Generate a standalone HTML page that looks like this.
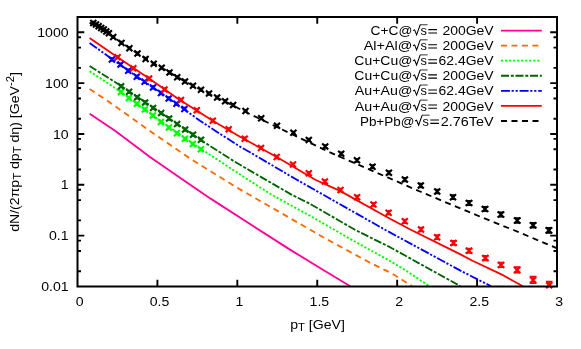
<!DOCTYPE html>
<html><head><meta charset="utf-8"><title>plot</title>
<style>html,body{margin:0;padding:0;background:#fff;}svg{display:block;font-family:"Liberation Sans",sans-serif;will-change:transform;}text{font-family:"Liberation Sans",sans-serif;fill:#000;}</style></head><body>
<svg width="581" height="349" viewBox="0 0 581 349">
<rect x="0" y="0" width="581" height="349" fill="#ffffff"/>
<clipPath id="c"><rect x="77.5" y="17.0" width="479.5" height="270.0"/></clipPath>
<g clip-path="url(#c)" fill="none" stroke-linejoin="round">
<path d="M89.7 113.8L115.4 131.0L150.0 157.0L180.0 177.7L211.0 198.9L250.0 224.0L290.0 249.6L320.0 268.0L350.2 286.2" stroke="#ff0099" stroke-width="1.85"/>
<path d="M89.6 88.9L107.7 100.9L150.0 131.0L191.3 159.4L240.0 189.4L292.6 219.6L327.0 239.4L370.0 262.7L392.0 273.5L412.2 286.2" stroke="#ff6a00" stroke-width="1.85" stroke-dasharray="6 4.46"/>
<path d="M89.6 71.2L120.5 91.7L160.7 121.0L200.8 148.8L250.0 181.0L271.8 194.8L310.0 215.8L351.0 239.4L390.0 261.0L404.4 269.6L429.4 286.2" stroke="#00ff00" stroke-width="1.85" stroke-dasharray="2.2 1.83"/>
<path d="M89.6 66.0L121.2 86.0L161.2 112.9L201.1 140.2L232.6 160.4L250.0 170.6L291.0 194.4L310.0 203.8L355.4 230.0L390.0 247.2L460.4 286.2" stroke="#006400" stroke-width="1.85" stroke-dasharray="8 1.8 3 1.7"/>
<path d="M89.6 42.9L111.9 59.0L136.8 76.4L160.9 92.8L184.4 109.4L200.0 120.8L221.4 134.7L240.0 146.6L250.0 152.3L295.2 178.8L322.6 194.4L385.5 230.0L460.0 270.4L491.0 286.2" stroke="#0000ff" stroke-width="1.85" stroke-dasharray="9 1.6 2.2 1.8 2.2 1.8"/>
<path d="M89.6 37.9L117.6 57.2L149.1 78.6L178.4 99.0L212.8 120.7L240.0 136.7L276.7 157.0L315.8 180.0L340.0 190.9L390.0 218.7L411.3 230.0L460.0 254.1L472.0 260.5L503.0 275.2L522.8 286.2" stroke="#ff0000" stroke-width="1.85"/>
<path d="M89.6 22.6L100.5 28.9L113.2 37.0L137.5 53.6L161.7 67.9L185.0 81.5L209.0 93.8L233.1 105.5L245.5 112.0L330.0 152.4L420.0 191.5L483.1 217.9L513.4 230.0L557.2 248.3" stroke="#000000" stroke-width="1.85" stroke-dasharray="6 4.5"/>
</g>
<g>
<path d="M117.90 89.00L123.90 95.00M117.90 95.00L123.90 89.00" stroke="#00ff00" stroke-width="2.1" fill="none"/><path d="M120.90 90.70L120.90 93.30M118.70 90.70L123.10 90.70M118.70 93.30L123.10 93.30" stroke="#00ff00" stroke-width="1.7" fill="none"/>
<path d="M125.90 95.00L131.90 101.00M125.90 101.00L131.90 95.00" stroke="#00ff00" stroke-width="2.1" fill="none"/><path d="M128.90 96.70L128.90 99.30M126.70 96.70L131.10 96.70M126.70 99.30L131.10 99.30" stroke="#00ff00" stroke-width="1.7" fill="none"/>
<path d="M133.90 100.80L139.90 106.80M133.90 106.80L139.90 100.80" stroke="#00ff00" stroke-width="2.1" fill="none"/><path d="M136.90 102.50L136.90 105.10M134.70 102.50L139.10 102.50M134.70 105.10L139.10 105.10" stroke="#00ff00" stroke-width="1.7" fill="none"/>
<path d="M141.90 106.60L147.90 112.60M141.90 112.60L147.90 106.60" stroke="#00ff00" stroke-width="2.1" fill="none"/><path d="M144.90 108.30L144.90 110.90M142.70 108.30L147.10 108.30M142.70 110.90L147.10 110.90" stroke="#00ff00" stroke-width="1.7" fill="none"/>
<path d="M149.90 112.60L155.90 118.60M149.90 118.60L155.90 112.60" stroke="#00ff00" stroke-width="2.1" fill="none"/><path d="M152.90 114.30L152.90 116.90M150.70 114.30L155.10 114.30M150.70 116.90L155.10 116.90" stroke="#00ff00" stroke-width="1.7" fill="none"/>
<path d="M157.90 119.00L163.90 125.00M157.90 125.00L163.90 119.00" stroke="#00ff00" stroke-width="2.1" fill="none"/><path d="M160.90 120.70L160.90 123.30M158.70 120.70L163.10 120.70M158.70 123.30L163.10 123.30" stroke="#00ff00" stroke-width="1.7" fill="none"/>
<path d="M165.90 124.60L171.90 130.60M165.90 130.60L171.90 124.60" stroke="#00ff00" stroke-width="2.1" fill="none"/><path d="M168.90 126.30L168.90 128.90M166.70 126.30L171.10 126.30M166.70 128.90L171.10 128.90" stroke="#00ff00" stroke-width="1.7" fill="none"/>
<path d="M173.90 130.20L179.90 136.20M173.90 136.20L179.90 130.20" stroke="#00ff00" stroke-width="2.1" fill="none"/><path d="M176.90 131.90L176.90 134.50M174.70 131.90L179.10 131.90M174.70 134.50L179.10 134.50" stroke="#00ff00" stroke-width="1.7" fill="none"/>
<path d="M181.90 135.80L187.90 141.80M181.90 141.80L187.90 135.80" stroke="#00ff00" stroke-width="2.1" fill="none"/><path d="M184.90 137.50L184.90 140.10M182.70 137.50L187.10 137.50M182.70 140.10L187.10 140.10" stroke="#00ff00" stroke-width="1.7" fill="none"/>
<path d="M189.80 141.00L195.80 147.00M189.80 147.00L195.80 141.00" stroke="#00ff00" stroke-width="2.1" fill="none"/><path d="M192.80 142.70L192.80 145.30M190.60 142.70L195.00 142.70M190.60 145.30L195.00 145.30" stroke="#00ff00" stroke-width="1.7" fill="none"/>
<path d="M197.80 146.20L203.80 152.20M197.80 152.20L203.80 146.20" stroke="#00ff00" stroke-width="2.1" fill="none"/><path d="M200.80 147.90L200.80 150.50M198.60 147.90L203.00 147.90M198.60 150.50L203.00 150.50" stroke="#00ff00" stroke-width="1.7" fill="none"/>
<path d="M118.10 83.20L124.10 89.20M118.10 89.20L124.10 83.20" stroke="#006400" stroke-width="2.1" fill="none"/><path d="M121.10 84.90L121.10 87.50M118.90 84.90L123.30 84.90M118.90 87.50L123.30 87.50" stroke="#006400" stroke-width="1.7" fill="none"/>
<path d="M126.10 88.80L132.10 94.80M126.10 94.80L132.10 88.80" stroke="#006400" stroke-width="2.1" fill="none"/><path d="M129.10 90.50L129.10 93.10M126.90 90.50L131.30 90.50M126.90 93.10L131.30 93.10" stroke="#006400" stroke-width="1.7" fill="none"/>
<path d="M134.10 94.30L140.10 100.30M134.10 100.30L140.10 94.30" stroke="#006400" stroke-width="2.1" fill="none"/><path d="M137.10 96.00L137.10 98.60M134.90 96.00L139.30 96.00M134.90 98.60L139.30 98.60" stroke="#006400" stroke-width="1.7" fill="none"/>
<path d="M142.10 99.40L148.10 105.40M142.10 105.40L148.10 99.40" stroke="#006400" stroke-width="2.1" fill="none"/><path d="M145.10 101.10L145.10 103.70M142.90 101.10L147.30 101.10M142.90 103.70L147.30 103.70" stroke="#006400" stroke-width="1.7" fill="none"/>
<path d="M150.10 104.90L156.10 110.90M150.10 110.90L156.10 104.90" stroke="#006400" stroke-width="2.1" fill="none"/><path d="M153.10 106.60L153.10 109.20M150.90 106.60L155.30 106.60M150.90 109.20L155.30 109.20" stroke="#006400" stroke-width="1.7" fill="none"/>
<path d="M158.10 110.10L164.10 116.10M158.10 116.10L164.10 110.10" stroke="#006400" stroke-width="2.1" fill="none"/><path d="M161.10 111.80L161.10 114.40M158.90 111.80L163.30 111.80M158.90 114.40L163.30 114.40" stroke="#006400" stroke-width="1.7" fill="none"/>
<path d="M166.10 115.50L172.10 121.50M166.10 121.50L172.10 115.50" stroke="#006400" stroke-width="2.1" fill="none"/><path d="M169.10 117.20L169.10 119.80M166.90 117.20L171.30 117.20M166.90 119.80L171.30 119.80" stroke="#006400" stroke-width="1.7" fill="none"/>
<path d="M174.10 121.10L180.10 127.10M174.10 127.10L180.10 121.10" stroke="#006400" stroke-width="2.1" fill="none"/><path d="M177.10 122.80L177.10 125.40M174.90 122.80L179.30 122.80M174.90 125.40L179.30 125.40" stroke="#006400" stroke-width="1.7" fill="none"/>
<path d="M182.10 126.60L188.10 132.60M182.10 132.60L188.10 126.60" stroke="#006400" stroke-width="2.1" fill="none"/><path d="M185.10 128.30L185.10 130.90M182.90 128.30L187.30 128.30M182.90 130.90L187.30 130.90" stroke="#006400" stroke-width="1.7" fill="none"/>
<path d="M190.00 131.70L196.00 137.70M190.00 137.70L196.00 131.70" stroke="#006400" stroke-width="2.1" fill="none"/><path d="M193.00 133.40L193.00 136.00M190.80 133.40L195.20 133.40M190.80 136.00L195.20 136.00" stroke="#006400" stroke-width="1.7" fill="none"/>
<path d="M198.00 136.80L204.00 142.80M198.00 142.80L204.00 136.80" stroke="#006400" stroke-width="2.1" fill="none"/><path d="M201.00 138.50L201.00 141.10M198.80 138.50L203.20 138.50M198.80 141.10L203.20 141.10" stroke="#006400" stroke-width="1.7" fill="none"/>
<path d="M108.90 56.50L114.90 62.50M108.90 62.50L114.90 56.50" stroke="#0000ff" stroke-width="2.1" fill="none"/><path d="M111.90 58.20L111.90 60.80M109.70 58.20L114.10 58.20M109.70 60.80L114.10 60.80" stroke="#0000ff" stroke-width="1.7" fill="none"/>
<path d="M117.50 61.60L123.50 67.60M117.50 67.60L123.50 61.60" stroke="#0000ff" stroke-width="2.1" fill="none"/><path d="M120.50 63.30L120.50 65.90M118.30 63.30L122.70 63.30M118.30 65.90L122.70 65.90" stroke="#0000ff" stroke-width="1.7" fill="none"/>
<path d="M125.20 67.70L131.20 73.70M125.20 73.70L131.20 67.70" stroke="#0000ff" stroke-width="2.1" fill="none"/><path d="M128.20 69.40L128.20 72.00M126.00 69.40L130.40 69.40M126.00 72.00L130.40 72.00" stroke="#0000ff" stroke-width="1.7" fill="none"/>
<path d="M133.80 73.70L139.80 79.70M133.80 79.70L139.80 73.70" stroke="#0000ff" stroke-width="2.1" fill="none"/><path d="M136.80 75.40L136.80 78.00M134.60 75.40L139.00 75.40M134.60 78.00L139.00 78.00" stroke="#0000ff" stroke-width="1.7" fill="none"/>
<path d="M141.60 78.80L147.60 84.80M141.60 84.80L147.60 78.80" stroke="#0000ff" stroke-width="2.1" fill="none"/><path d="M144.60 80.50L144.60 83.10M142.40 80.50L146.80 80.50M142.40 83.10L146.80 83.10" stroke="#0000ff" stroke-width="1.7" fill="none"/>
<path d="M150.00 84.40L156.00 90.40M150.00 90.40L156.00 84.40" stroke="#0000ff" stroke-width="2.1" fill="none"/><path d="M153.00 86.10L153.00 88.70M150.80 86.10L155.20 86.10M150.80 88.70L155.20 88.70" stroke="#0000ff" stroke-width="1.7" fill="none"/>
<path d="M158.00 90.00L164.00 96.00M158.00 96.00L164.00 90.00" stroke="#0000ff" stroke-width="2.1" fill="none"/><path d="M161.00 91.70L161.00 94.30M158.80 91.70L163.20 91.70M158.80 94.30L163.20 94.30" stroke="#0000ff" stroke-width="1.7" fill="none"/>
<path d="M165.70 95.40L171.70 101.40M165.70 101.40L171.70 95.40" stroke="#0000ff" stroke-width="2.1" fill="none"/><path d="M168.70 97.10L168.70 99.70M166.50 97.10L170.90 97.10M166.50 99.70L170.90 99.70" stroke="#0000ff" stroke-width="1.7" fill="none"/>
<path d="M173.40 100.80L179.40 106.80M173.40 106.80L179.40 100.80" stroke="#0000ff" stroke-width="2.1" fill="none"/><path d="M176.40 102.50L176.40 105.10M174.20 102.50L178.60 102.50M174.20 105.10L178.60 105.10" stroke="#0000ff" stroke-width="1.7" fill="none"/>
<path d="M181.40 105.90L187.40 111.90M181.40 111.90L187.40 105.90" stroke="#0000ff" stroke-width="2.1" fill="none"/><path d="M184.40 107.60L184.40 110.20M182.20 107.60L186.60 107.60M182.20 110.20L186.60 110.20" stroke="#0000ff" stroke-width="1.7" fill="none"/>
<path d="M114.60 54.20L120.60 60.20M114.60 60.20L120.60 54.20" stroke="#ff0000" stroke-width="2.1" fill="none"/><path d="M117.60 55.90L117.60 58.50M115.40 55.90L119.80 55.90M115.40 58.50L119.80 58.50" stroke="#ff0000" stroke-width="1.7" fill="none"/>
<path d="M130.30 65.20L136.30 71.20M130.30 71.20L136.30 65.20" stroke="#ff0000" stroke-width="2.1" fill="none"/><path d="M133.30 66.90L133.30 69.50M131.10 66.90L135.50 66.90M131.10 69.50L135.50 69.50" stroke="#ff0000" stroke-width="1.7" fill="none"/>
<path d="M146.10 75.60L152.10 81.60M146.10 81.60L152.10 75.60" stroke="#ff0000" stroke-width="2.1" fill="none"/><path d="M149.10 77.30L149.10 79.90M146.90 77.30L151.30 77.30M146.90 79.90L151.30 79.90" stroke="#ff0000" stroke-width="1.7" fill="none"/>
<path d="M161.50 86.40L167.50 92.40M161.50 92.40L167.50 86.40" stroke="#ff0000" stroke-width="2.1" fill="none"/><path d="M164.50 88.10L164.50 90.70M162.30 88.10L166.70 88.10M162.30 90.70L166.70 90.70" stroke="#ff0000" stroke-width="1.7" fill="none"/>
<path d="M178.00 97.00L184.00 103.00M178.00 103.00L184.00 97.00" stroke="#ff0000" stroke-width="2.1" fill="none"/><path d="M181.00 98.70L181.00 101.30M178.80 98.70L183.20 98.70M178.80 101.30L183.20 101.30" stroke="#ff0000" stroke-width="1.7" fill="none"/>
<path d="M193.80 107.30L199.80 113.30M193.80 113.30L199.80 107.30" stroke="#ff0000" stroke-width="2.1" fill="none"/><path d="M196.80 109.00L196.80 111.60M194.60 109.00L199.00 109.00M194.60 111.60L199.00 111.60" stroke="#ff0000" stroke-width="1.7" fill="none"/>
<path d="M209.80 117.70L215.80 123.70M209.80 123.70L215.80 117.70" stroke="#ff0000" stroke-width="2.1" fill="none"/><path d="M212.80 119.40L212.80 122.00M210.60 119.40L215.00 119.40M210.60 122.00L215.00 122.00" stroke="#ff0000" stroke-width="1.7" fill="none"/>
<path d="M225.70 126.30L231.70 132.30M225.70 132.30L231.70 126.30" stroke="#ff0000" stroke-width="2.1" fill="none"/><path d="M228.70 128.00L228.70 130.60M226.50 128.00L230.90 128.00M226.50 130.60L230.90 130.60" stroke="#ff0000" stroke-width="1.7" fill="none"/>
<path d="M241.70 135.70L247.70 141.70M241.70 141.70L247.70 135.70" stroke="#ff0000" stroke-width="2.1" fill="none"/><path d="M244.70 137.40L244.70 140.00M242.50 137.40L246.90 137.40M242.50 140.00L246.90 140.00" stroke="#ff0000" stroke-width="1.7" fill="none"/>
<path d="M258.00 144.90L264.00 150.90M258.00 150.90L264.00 144.90" stroke="#ff0000" stroke-width="2.1" fill="none"/><path d="M261.00 146.60L261.00 149.20M258.80 146.60L263.20 146.60M258.80 149.20L263.20 149.20" stroke="#ff0000" stroke-width="1.7" fill="none"/>
<path d="M273.70 154.00L279.70 160.00M273.70 160.00L279.70 154.00" stroke="#ff0000" stroke-width="2.1" fill="none"/><path d="M276.70 155.70L276.70 158.30M274.50 155.70L278.90 155.70M274.50 158.30L278.90 158.30" stroke="#ff0000" stroke-width="1.7" fill="none"/>
<path d="M290.00 161.60L296.00 167.60M290.00 167.60L296.00 161.60" stroke="#ff0000" stroke-width="2.1" fill="none"/><path d="M293.00 163.30L293.00 165.90M290.80 163.30L295.20 163.30M290.80 165.90L295.20 165.90" stroke="#ff0000" stroke-width="1.7" fill="none"/>
<path d="M305.80 170.20L311.80 176.20M305.80 176.20L311.80 170.20" stroke="#ff0000" stroke-width="2.1" fill="none"/><path d="M308.80 171.86L308.80 174.54M306.60 171.86L311.00 171.86M306.60 174.54L311.00 174.54" stroke="#ff0000" stroke-width="1.7" fill="none"/>
<path d="M321.90 178.50L327.90 184.50M321.90 184.50L327.90 178.50" stroke="#ff0000" stroke-width="2.1" fill="none"/><path d="M324.90 180.08L324.90 182.92M322.70 180.08L327.10 180.08M322.70 182.92L327.10 182.92" stroke="#ff0000" stroke-width="1.7" fill="none"/>
<path d="M337.50 187.10L343.50 193.10M337.50 193.10L343.50 187.10" stroke="#ff0000" stroke-width="2.1" fill="none"/><path d="M340.50 188.60L340.50 191.60M338.30 188.60L342.70 188.60M338.30 191.60L342.70 191.60" stroke="#ff0000" stroke-width="1.7" fill="none"/>
<path d="M354.10 194.20L360.10 200.20M354.10 200.20L360.10 194.20" stroke="#ff0000" stroke-width="2.1" fill="none"/><path d="M357.10 195.61L357.10 198.79M354.90 195.61L359.30 195.61M354.90 198.79L359.30 198.79" stroke="#ff0000" stroke-width="1.7" fill="none"/>
<path d="M370.50 201.40L376.50 207.40M370.50 207.40L376.50 201.40" stroke="#ff0000" stroke-width="2.1" fill="none"/><path d="M373.50 202.73L373.50 206.07M371.30 202.73L375.70 202.73M371.30 206.07L375.70 206.07" stroke="#ff0000" stroke-width="1.7" fill="none"/>
<path d="M385.60 209.70L391.60 215.70M385.60 215.70L391.60 209.70" stroke="#ff0000" stroke-width="2.1" fill="none"/><path d="M388.60 210.96L388.60 214.44M386.40 210.96L390.80 210.96M386.40 214.44L390.80 214.44" stroke="#ff0000" stroke-width="1.7" fill="none"/>
<path d="M401.80 218.30L407.80 224.30M401.80 224.30L407.80 218.30" stroke="#ff0000" stroke-width="2.1" fill="none"/><path d="M404.80 219.48L404.80 223.12M402.60 219.48L407.00 219.48M402.60 223.12L407.00 223.12" stroke="#ff0000" stroke-width="1.7" fill="none"/>
<path d="M418.00 226.60L424.00 232.60M418.00 232.60L424.00 226.60" stroke="#ff0000" stroke-width="2.1" fill="none"/><path d="M421.00 227.69L421.00 231.50M418.80 227.69L423.20 227.69M418.80 231.50L423.20 231.50" stroke="#ff0000" stroke-width="1.7" fill="none"/>
<path d="M434.10 234.20L440.10 240.20M434.10 240.20L440.10 234.20" stroke="#ff0000" stroke-width="2.1" fill="none"/><path d="M437.10 235.21L437.10 239.19M434.90 235.21L439.30 235.21M434.90 239.19L439.30 239.19" stroke="#ff0000" stroke-width="1.7" fill="none"/>
<path d="M450.50 239.90L456.50 245.90M450.50 245.90L456.50 239.90" stroke="#ff0000" stroke-width="2.1" fill="none"/><path d="M453.50 240.83L453.50 244.97M450.10 240.83L456.90 240.83M450.10 244.97L456.90 244.97" stroke="#ff0000" stroke-width="1.7" fill="none"/>
<path d="M466.00 247.70L472.00 253.70M466.00 253.70L472.00 247.70" stroke="#ff0000" stroke-width="2.1" fill="none"/><path d="M469.00 248.55L469.00 252.84M465.60 248.55L472.40 248.55M465.60 252.84L472.40 252.84" stroke="#ff0000" stroke-width="1.7" fill="none"/>
<path d="M482.30 255.10L488.30 261.10M482.30 261.10L488.30 255.10" stroke="#ff0000" stroke-width="2.1" fill="none"/><path d="M485.30 255.87L485.30 260.33M481.90 255.87L488.70 255.87M481.90 260.33L488.70 260.33" stroke="#ff0000" stroke-width="1.7" fill="none"/>
<path d="M498.00 261.90L504.00 267.90M498.00 267.90L504.00 261.90" stroke="#ff0000" stroke-width="2.1" fill="none"/><path d="M501.00 262.59L501.00 267.20M497.60 262.59L504.40 262.59M497.60 267.20L504.40 267.20" stroke="#ff0000" stroke-width="1.7" fill="none"/>
<path d="M514.10 266.90L520.10 272.90M514.10 272.90L520.10 266.90" stroke="#ff0000" stroke-width="2.1" fill="none"/><path d="M517.10 267.10L517.10 272.70M513.70 267.10L520.50 267.10M513.70 272.70L520.50 272.70" stroke="#ff0000" stroke-width="1.7" fill="none"/>
<path d="M530.10 276.90L536.10 282.90M530.10 282.90L536.10 276.90" stroke="#ff0000" stroke-width="2.1" fill="none"/><path d="M533.10 276.60L533.10 283.20M529.70 276.60L536.50 276.60M529.70 283.20L536.50 283.20" stroke="#ff0000" stroke-width="1.7" fill="none"/>
<path d="M90.30 19.90L96.30 25.90M90.30 25.90L96.30 19.90" stroke="#000000" stroke-width="2.1" fill="none"/><path d="M93.30 21.70L93.30 24.10M91.10 21.70L95.50 21.70M91.10 24.10L95.50 24.10" stroke="#000000" stroke-width="1.7" fill="none"/>
<path d="M93.00 21.60L99.00 27.60M93.00 27.60L99.00 21.60" stroke="#000000" stroke-width="2.1" fill="none"/><path d="M96.00 23.40L96.00 25.80M93.80 23.40L98.20 23.40M93.80 25.80L98.20 25.80" stroke="#000000" stroke-width="1.7" fill="none"/>
<path d="M95.60 23.20L101.60 29.20M95.60 29.20L101.60 23.20" stroke="#000000" stroke-width="2.1" fill="none"/><path d="M98.60 25.00L98.60 27.40M96.40 25.00L100.80 25.00M96.40 27.40L100.80 27.40" stroke="#000000" stroke-width="1.7" fill="none"/>
<path d="M98.20 24.90L104.20 30.90M98.20 30.90L104.20 24.90" stroke="#000000" stroke-width="2.1" fill="none"/><path d="M101.20 26.70L101.20 29.10M99.00 26.70L103.40 26.70M99.00 29.10L103.40 29.10" stroke="#000000" stroke-width="1.7" fill="none"/>
<path d="M100.80 26.60L106.80 32.60M100.80 32.60L106.80 26.60" stroke="#000000" stroke-width="2.1" fill="none"/><path d="M103.80 28.40L103.80 30.80M101.60 28.40L106.00 28.40M101.60 30.80L106.00 30.80" stroke="#000000" stroke-width="1.7" fill="none"/>
<path d="M103.30 28.40L109.30 34.40M103.30 34.40L109.30 28.40" stroke="#000000" stroke-width="2.1" fill="none"/><path d="M106.30 30.20L106.30 32.60M104.10 30.20L108.50 30.20M104.10 32.60L108.50 32.60" stroke="#000000" stroke-width="1.7" fill="none"/>
<path d="M105.90 30.30L111.90 36.30M105.90 36.30L111.90 30.30" stroke="#000000" stroke-width="2.1" fill="none"/><path d="M108.90 32.10L108.90 34.50M106.70 32.10L111.10 32.10M106.70 34.50L111.10 34.50" stroke="#000000" stroke-width="1.7" fill="none"/>
<path d="M110.20 34.00L116.20 40.00M110.20 40.00L116.20 34.00" stroke="#000000" stroke-width="2.1" fill="none"/><path d="M113.20 35.80L113.20 38.20M111.00 35.80L115.40 35.80M111.00 38.20L115.40 38.20" stroke="#000000" stroke-width="1.7" fill="none"/>
<path d="M118.50 39.90L124.50 45.90M118.50 45.90L124.50 39.90" stroke="#000000" stroke-width="2.1" fill="none"/><path d="M121.50 41.70L121.50 44.10M119.30 41.70L123.70 41.70M119.30 44.10L123.70 44.10" stroke="#000000" stroke-width="1.7" fill="none"/>
<path d="M126.40 45.20L132.40 51.20M126.40 51.20L132.40 45.20" stroke="#000000" stroke-width="2.1" fill="none"/><path d="M129.40 47.00L129.40 49.40M127.20 47.00L131.60 47.00M127.20 49.40L131.60 49.40" stroke="#000000" stroke-width="1.7" fill="none"/>
<path d="M134.50 50.60L140.50 56.60M134.50 56.60L140.50 50.60" stroke="#000000" stroke-width="2.1" fill="none"/><path d="M137.50 52.40L137.50 54.80M135.30 52.40L139.70 52.40M135.30 54.80L139.70 54.80" stroke="#000000" stroke-width="1.7" fill="none"/>
<path d="M142.60 55.90L148.60 61.90M142.60 61.90L148.60 55.90" stroke="#000000" stroke-width="2.1" fill="none"/><path d="M145.60 57.70L145.60 60.10M143.40 57.70L147.80 57.70M143.40 60.10L147.80 60.10" stroke="#000000" stroke-width="1.7" fill="none"/>
<path d="M150.70 60.70L156.70 66.70M150.70 66.70L156.70 60.70" stroke="#000000" stroke-width="2.1" fill="none"/><path d="M153.70 62.50L153.70 64.90M151.50 62.50L155.90 62.50M151.50 64.90L155.90 64.90" stroke="#000000" stroke-width="1.7" fill="none"/>
<path d="M158.70 64.70L164.70 70.70M158.70 70.70L164.70 64.70" stroke="#000000" stroke-width="2.1" fill="none"/><path d="M161.70 66.50L161.70 68.90M159.50 66.50L163.90 66.50M159.50 68.90L163.90 68.90" stroke="#000000" stroke-width="1.7" fill="none"/>
<path d="M166.50 69.40L172.50 75.40M166.50 75.40L172.50 69.40" stroke="#000000" stroke-width="2.1" fill="none"/><path d="M169.50 71.20L169.50 73.60M167.30 71.20L171.70 71.20M167.30 73.60L171.70 73.60" stroke="#000000" stroke-width="1.7" fill="none"/>
<path d="M174.20 74.20L180.20 80.20M174.20 80.20L180.20 74.20" stroke="#000000" stroke-width="2.1" fill="none"/><path d="M177.20 76.00L177.20 78.40M175.00 76.00L179.40 76.00M175.00 78.40L179.40 78.40" stroke="#000000" stroke-width="1.7" fill="none"/>
<path d="M182.00 78.50L188.00 84.50M182.00 84.50L188.00 78.50" stroke="#000000" stroke-width="2.1" fill="none"/><path d="M185.00 80.30L185.00 82.70M182.80 80.30L187.20 80.30M182.80 82.70L187.20 82.70" stroke="#000000" stroke-width="1.7" fill="none"/>
<path d="M190.00 82.80L196.00 88.80M190.00 88.80L196.00 82.80" stroke="#000000" stroke-width="2.1" fill="none"/><path d="M193.00 84.60L193.00 87.00M190.80 84.60L195.20 84.60M190.80 87.00L195.20 87.00" stroke="#000000" stroke-width="1.7" fill="none"/>
<path d="M198.00 86.80L204.00 92.80M198.00 92.80L204.00 86.80" stroke="#000000" stroke-width="2.1" fill="none"/><path d="M201.00 88.60L201.00 91.00M198.80 88.60L203.20 88.60M198.80 91.00L203.20 91.00" stroke="#000000" stroke-width="1.7" fill="none"/>
<path d="M206.00 90.60L212.00 96.60M206.00 96.60L212.00 90.60" stroke="#000000" stroke-width="2.1" fill="none"/><path d="M209.00 92.40L209.00 94.80M206.80 92.40L211.20 92.40M206.80 94.80L211.20 94.80" stroke="#000000" stroke-width="1.7" fill="none"/>
<path d="M214.10 94.50L220.10 100.50M214.10 100.50L220.10 94.50" stroke="#000000" stroke-width="2.1" fill="none"/><path d="M217.10 96.30L217.10 98.70M214.90 96.30L219.30 96.30M214.90 98.70L219.30 98.70" stroke="#000000" stroke-width="1.7" fill="none"/>
<path d="M222.10 98.30L228.10 104.30M222.10 104.30L228.10 98.30" stroke="#000000" stroke-width="2.1" fill="none"/><path d="M225.10 100.10L225.10 102.50M222.90 100.10L227.30 100.10M222.90 102.50L227.30 102.50" stroke="#000000" stroke-width="1.7" fill="none"/>
<path d="M230.10 102.10L236.10 108.10M230.10 108.10L236.10 102.10" stroke="#000000" stroke-width="2.1" fill="none"/><path d="M233.10 103.90L233.10 106.30M230.90 103.90L235.30 103.90M230.90 106.30L235.30 106.30" stroke="#000000" stroke-width="1.7" fill="none"/>
<path d="M242.50 108.00L248.50 114.00M242.50 114.00L248.50 108.00" stroke="#000000" stroke-width="2.1" fill="none"/><path d="M245.50 109.80L245.50 112.20M243.30 109.80L247.70 109.80M243.30 112.20L247.70 112.20" stroke="#000000" stroke-width="1.7" fill="none"/>
<path d="M258.20 115.20L264.20 121.20M258.20 121.20L264.20 115.20" stroke="#000000" stroke-width="2.1" fill="none"/><path d="M261.20 117.00L261.20 119.40M259.00 117.00L263.40 117.00M259.00 119.40L263.40 119.40" stroke="#000000" stroke-width="1.7" fill="none"/>
<path d="M274.00 122.80L280.00 128.80M274.00 128.80L280.00 122.80" stroke="#000000" stroke-width="2.1" fill="none"/><path d="M277.00 124.60L277.00 127.00M274.80 124.60L279.20 124.60M274.80 127.00L279.20 127.00" stroke="#000000" stroke-width="1.7" fill="none"/>
<path d="M290.40 129.70L296.40 135.70M290.40 135.70L296.40 129.70" stroke="#000000" stroke-width="2.1" fill="none"/><path d="M293.40 131.50L293.40 133.90M291.20 131.50L295.60 131.50M291.20 133.90L295.60 133.90" stroke="#000000" stroke-width="1.7" fill="none"/>
<path d="M305.80 136.90L311.80 142.90M305.80 142.90L311.80 136.90" stroke="#000000" stroke-width="2.1" fill="none"/><path d="M308.80 138.65L308.80 141.15M306.60 138.65L311.00 138.65M306.60 141.15L311.00 141.15" stroke="#000000" stroke-width="1.7" fill="none"/>
<path d="M322.20 143.50L328.20 149.50M322.20 149.50L328.20 143.50" stroke="#000000" stroke-width="2.1" fill="none"/><path d="M325.20 145.17L325.20 147.83M323.00 145.17L327.40 145.17M323.00 147.83L327.40 147.83" stroke="#000000" stroke-width="1.7" fill="none"/>
<path d="M338.20 150.80L344.20 156.80M338.20 156.80L344.20 150.80" stroke="#000000" stroke-width="2.1" fill="none"/><path d="M341.20 152.39L341.20 155.21M339.00 152.39L343.40 152.39M339.00 155.21L343.40 155.21" stroke="#000000" stroke-width="1.7" fill="none"/>
<path d="M354.00 157.30L360.00 163.30M354.00 163.30L360.00 157.30" stroke="#000000" stroke-width="2.1" fill="none"/><path d="M357.00 158.80L357.00 161.80M354.80 158.80L359.20 158.80M354.80 161.80L359.20 161.80" stroke="#000000" stroke-width="1.7" fill="none"/>
<path d="M369.50 163.70L375.50 169.70M369.50 169.70L375.50 163.70" stroke="#000000" stroke-width="2.1" fill="none"/><path d="M372.50 165.12L372.50 168.28M370.30 165.12L374.70 165.12M370.30 168.28L374.70 168.28" stroke="#000000" stroke-width="1.7" fill="none"/>
<path d="M385.90 169.70L391.90 175.70M385.90 175.70L391.90 169.70" stroke="#000000" stroke-width="2.1" fill="none"/><path d="M388.90 171.04L388.90 174.36M386.70 171.04L391.10 171.04M386.70 174.36L391.10 174.36" stroke="#000000" stroke-width="1.7" fill="none"/>
<path d="M401.90 176.60L407.90 182.60M401.90 182.60L407.90 176.60" stroke="#000000" stroke-width="2.1" fill="none"/><path d="M404.90 177.85L404.90 181.35M402.70 177.85L407.10 177.85M402.70 181.35L407.10 181.35" stroke="#000000" stroke-width="1.7" fill="none"/>
<path d="M417.80 182.50L423.80 188.50M417.80 188.50L423.80 182.50" stroke="#000000" stroke-width="2.1" fill="none"/><path d="M420.80 183.67L420.80 187.33M418.60 183.67L423.00 183.67M418.60 187.33L423.00 187.33" stroke="#000000" stroke-width="1.7" fill="none"/>
<path d="M434.20 188.50L440.20 194.50M434.20 194.50L440.20 188.50" stroke="#000000" stroke-width="2.1" fill="none"/><path d="M437.20 189.59L437.20 193.41M435.00 189.59L439.40 189.59M435.00 193.41L439.40 193.41" stroke="#000000" stroke-width="1.7" fill="none"/>
<path d="M450.00 194.20L456.00 200.20M450.00 200.20L456.00 194.20" stroke="#000000" stroke-width="2.1" fill="none"/><path d="M453.00 195.20L453.00 199.20M450.80 195.20L455.20 195.20M450.80 199.20L455.20 199.20" stroke="#000000" stroke-width="1.7" fill="none"/>
<path d="M466.00 200.00L472.00 206.00M466.00 206.00L472.00 200.00" stroke="#000000" stroke-width="2.1" fill="none"/><path d="M469.00 200.92L469.00 205.08M465.60 200.92L472.40 200.92M465.60 205.08L472.40 205.08" stroke="#000000" stroke-width="1.7" fill="none"/>
<path d="M482.00 206.10L488.00 212.10M482.00 212.10L488.00 206.10" stroke="#000000" stroke-width="2.1" fill="none"/><path d="M485.00 206.94L485.00 211.26M481.60 206.94L488.40 206.94M481.60 211.26L488.40 211.26" stroke="#000000" stroke-width="1.7" fill="none"/>
<path d="M497.90 211.50L503.90 217.50M497.90 217.50L503.90 211.50" stroke="#000000" stroke-width="2.1" fill="none"/><path d="M500.90 212.26L500.90 216.74M497.50 212.26L504.30 212.26M497.50 216.74L504.30 216.74" stroke="#000000" stroke-width="1.7" fill="none"/>
<path d="M514.20 217.50L520.20 223.50M514.20 223.50L520.20 217.50" stroke="#000000" stroke-width="2.1" fill="none"/><path d="M517.20 218.17L517.20 222.83M513.80 218.17L520.60 218.17M513.80 222.83L520.60 222.83" stroke="#000000" stroke-width="1.7" fill="none"/>
<path d="M530.10 222.20L536.10 228.20M530.10 228.20L536.10 222.20" stroke="#000000" stroke-width="2.1" fill="none"/><path d="M533.10 222.79L533.10 227.61M529.70 222.79L536.50 222.79M529.70 227.61L536.50 227.61" stroke="#000000" stroke-width="1.7" fill="none"/>
<path d="M545.90 227.30L551.90 233.30M545.90 233.30L551.90 227.30" stroke="#000000" stroke-width="2.1" fill="none"/><path d="M548.90 227.81L548.90 232.79M545.50 227.81L552.30 227.81M545.50 232.79L552.30 232.79" stroke="#000000" stroke-width="1.7" fill="none"/>
<path d="M546.2 282.3L552.2 288.3M546.2 288.3L552.2 282.3" stroke="#ff0000" stroke-width="2.3" fill="none"/>
<path d="M549.2 281.6V286.5M545.9 281.6H552.5" stroke="#ff0000" stroke-width="1.8" fill="none"/>
</g>
<rect x="77.5" y="17.0" width="479.5" height="269.5" fill="none" stroke="#000" stroke-width="2"/>
<path d="M157.42 286.5V279.7M157.42 17.0V23.8M237.33 286.5V279.7M237.33 17.0V23.8M317.25 286.5V279.7M317.25 17.0V23.8M397.17 286.5V279.7M397.17 17.0V23.8M477.08 286.5V279.7M477.08 17.0V23.8M77.5 271.20H81.0M557.0 271.20H553.5M77.5 250.96H81.0M557.0 250.96H553.5M77.5 240.59H81.0M557.0 240.59H553.5M77.5 235.66H84.3M557.0 235.66H550.2M77.5 220.36H81.0M557.0 220.36H553.5M77.5 200.13H81.0M557.0 200.13H553.5M77.5 189.75H81.0M557.0 189.75H553.5M77.5 184.82H84.3M557.0 184.82H550.2M77.5 169.52H81.0M557.0 169.52H553.5M77.5 149.29H81.0M557.0 149.29H553.5M77.5 138.91H81.0M557.0 138.91H553.5M77.5 133.98H84.3M557.0 133.98H550.2M77.5 118.68H81.0M557.0 118.68H553.5M77.5 98.45H81.0M557.0 98.45H553.5M77.5 88.07H81.0M557.0 88.07H553.5M77.5 83.14H84.3M557.0 83.14H550.2M77.5 67.84H81.0M557.0 67.84H553.5M77.5 47.61H81.0M557.0 47.61H553.5M77.5 37.23H81.0M557.0 37.23H553.5M77.5 32.30H84.3M557.0 32.30H550.2" stroke="#000" stroke-width="1.9" fill="none"/>
<text transform="translate(68.60 36.90) scale(1.085 1)" font-size="13.0" text-anchor="end">1000</text>
<text transform="translate(68.60 87.74) scale(1.085 1)" font-size="13.0" text-anchor="end">100</text>
<text transform="translate(68.60 138.58) scale(1.085 1)" font-size="13.0" text-anchor="end">10</text>
<text transform="translate(68.60 189.42) scale(1.085 1)" font-size="13.0" text-anchor="end">1</text>
<text transform="translate(68.60 240.26) scale(1.085 1)" font-size="13.0" text-anchor="end">0.1</text>
<text transform="translate(68.60 291.10) scale(1.085 1)" font-size="13.0" text-anchor="end">0.01</text>
<text transform="translate(79.60 305.70) scale(1.085 1)" font-size="13.0" text-anchor="middle">0</text>
<text transform="translate(159.52 305.70) scale(1.085 1)" font-size="13.0" text-anchor="middle">0.5</text>
<text transform="translate(239.43 305.70) scale(1.085 1)" font-size="13.0" text-anchor="middle">1</text>
<text transform="translate(319.35 305.70) scale(1.085 1)" font-size="13.0" text-anchor="middle">1.5</text>
<text transform="translate(399.27 305.70) scale(1.085 1)" font-size="13.0" text-anchor="middle">2</text>
<text transform="translate(479.18 305.70) scale(1.085 1)" font-size="13.0" text-anchor="middle">2.5</text>
<text transform="translate(559.10 305.70) scale(1.085 1)" font-size="13.0" text-anchor="middle">3</text>
<text transform="translate(290.2 329.4) scale(1.085 1)" font-size="13.0">p<tspan font-size="10.4" dy="1.8">T</tspan><tspan dy="-1.8"> [GeV]</tspan></text>
<text transform="translate(19.3 231.8) rotate(-90) scale(1.085 1)" font-size="13.0">dN/(2πp<tspan font-size="10.4" dy="1.8">T</tspan><tspan dy="-1.8"> dp</tspan><tspan font-size="10.4" dy="1.8">T</tspan><tspan dy="-1.8"> dη) [GeV</tspan><tspan font-size="10.4" dy="-5">-2</tspan><tspan dy="5">]</tspan></text>
<path d="M501 30.55H541.8" stroke="#ff0099" stroke-width="1.85" fill="none"/>
<text x="370.6" y="35.15" font-size="13.0" textLength="41.8" lengthAdjust="spacingAndGlyphs">C+C@</text>
<path d="M413.0 30.65L414.6 29.85L416.6 34.85L420.2 24.75" stroke="#000" stroke-width="1.05" fill="none"/>
<path d="M420.0 24.75H427.6" stroke="#000" stroke-width="0.8" fill="none"/>
<text x="420.6" y="35.15" font-size="13.0" textLength="6.4" lengthAdjust="spacingAndGlyphs">s</text>
<path d="M428.3 29.65H437.0M428.3 32.95H437.0" stroke="#000" stroke-width="1.1" fill="none"/>
<text x="442.4" y="35.15" font-size="13.0" textLength="51.2" lengthAdjust="spacingAndGlyphs">200GeV</text>
<path d="M501 45.62H541.8" stroke="#ff6a00" stroke-width="1.85" stroke-dasharray="6 4.46" fill="none"/>
<text x="363.7" y="50.22" font-size="13.0" textLength="48.7" lengthAdjust="spacingAndGlyphs">Al+Al@</text>
<path d="M413.0 45.72L414.6 44.92L416.6 49.92L420.2 39.82" stroke="#000" stroke-width="1.05" fill="none"/>
<path d="M420.0 39.82H427.6" stroke="#000" stroke-width="0.8" fill="none"/>
<text x="420.6" y="50.22" font-size="13.0" textLength="6.4" lengthAdjust="spacingAndGlyphs">s</text>
<path d="M428.3 44.72H437.0M428.3 48.02H437.0" stroke="#000" stroke-width="1.1" fill="none"/>
<text x="442.4" y="50.22" font-size="13.0" textLength="51.2" lengthAdjust="spacingAndGlyphs">200GeV</text>
<path d="M501 60.69H540.6" stroke="#00ff00" stroke-width="1.85" stroke-dasharray="2.2 1.83" fill="none"/>
<text x="354.3" y="65.29" font-size="13.0" textLength="58.1" lengthAdjust="spacingAndGlyphs">Cu+Cu@</text>
<path d="M413.0 60.79L414.6 59.99L416.6 64.99L420.2 54.89" stroke="#000" stroke-width="1.05" fill="none"/>
<path d="M420.0 54.89H427.6" stroke="#000" stroke-width="0.8" fill="none"/>
<text x="420.6" y="65.29" font-size="13.0" textLength="6.4" lengthAdjust="spacingAndGlyphs">s</text>
<path d="M428.3 59.79H437.0M428.3 63.09H437.0" stroke="#000" stroke-width="1.1" fill="none"/>
<text x="438.6" y="65.29" font-size="13.0" textLength="55.0" lengthAdjust="spacingAndGlyphs">62.4GeV</text>
<path d="M501 75.76H541.8" stroke="#006400" stroke-width="1.85" stroke-dasharray="8 1.8 3 1.7" fill="none"/>
<text x="354.3" y="80.36" font-size="13.0" textLength="58.1" lengthAdjust="spacingAndGlyphs">Cu+Cu@</text>
<path d="M413.0 75.86L414.6 75.06L416.6 80.06L420.2 69.96" stroke="#000" stroke-width="1.05" fill="none"/>
<path d="M420.0 69.96H427.6" stroke="#000" stroke-width="0.8" fill="none"/>
<text x="420.6" y="80.36" font-size="13.0" textLength="6.4" lengthAdjust="spacingAndGlyphs">s</text>
<path d="M428.3 74.86H437.0M428.3 78.16H437.0" stroke="#000" stroke-width="1.1" fill="none"/>
<text x="442.4" y="80.36" font-size="13.0" textLength="51.2" lengthAdjust="spacingAndGlyphs">200GeV</text>
<path d="M501 90.83H541.8" stroke="#0000ff" stroke-width="1.85" stroke-dasharray="9 1.6 2.2 1.8 2.2 1.8" fill="none"/>
<text x="354.8" y="95.43" font-size="13.0" textLength="57.6" lengthAdjust="spacingAndGlyphs">Au+Au@</text>
<path d="M413.0 90.93L414.6 90.13L416.6 95.13L420.2 85.03" stroke="#000" stroke-width="1.05" fill="none"/>
<path d="M420.0 85.03H427.6" stroke="#000" stroke-width="0.8" fill="none"/>
<text x="420.6" y="95.43" font-size="13.0" textLength="6.4" lengthAdjust="spacingAndGlyphs">s</text>
<path d="M428.3 89.93H437.0M428.3 93.23H437.0" stroke="#000" stroke-width="1.1" fill="none"/>
<text x="438.6" y="95.43" font-size="13.0" textLength="55.0" lengthAdjust="spacingAndGlyphs">62.4GeV</text>
<path d="M501 105.90H541.8" stroke="#ff0000" stroke-width="1.85" fill="none"/>
<text x="354.8" y="110.50" font-size="13.0" textLength="57.6" lengthAdjust="spacingAndGlyphs">Au+Au@</text>
<path d="M413.0 106.00L414.6 105.20L416.6 110.20L420.2 100.10" stroke="#000" stroke-width="1.05" fill="none"/>
<path d="M420.0 100.10H427.6" stroke="#000" stroke-width="0.8" fill="none"/>
<text x="420.6" y="110.50" font-size="13.0" textLength="6.4" lengthAdjust="spacingAndGlyphs">s</text>
<path d="M428.3 105.00H437.0M428.3 108.30H437.0" stroke="#000" stroke-width="1.1" fill="none"/>
<text x="442.4" y="110.50" font-size="13.0" textLength="51.2" lengthAdjust="spacingAndGlyphs">200GeV</text>
<path d="M501 120.97H541.8" stroke="#000000" stroke-width="1.85" stroke-dasharray="6 4.5" fill="none"/>
<text x="359.9" y="125.57" font-size="13.0" textLength="54.5" lengthAdjust="spacingAndGlyphs">Pb+Pb@</text>
<path d="M415.0 121.07L416.6 120.27L418.6 125.27L422.2 115.17" stroke="#000" stroke-width="1.05" fill="none"/>
<path d="M422.0 115.17H429.6" stroke="#000" stroke-width="0.8" fill="none"/>
<text x="422.6" y="125.57" font-size="13.0" textLength="6.4" lengthAdjust="spacingAndGlyphs">s</text>
<path d="M430.3 120.07H439.0M430.3 123.37H439.0" stroke="#000" stroke-width="1.1" fill="none"/>
<text x="440.8" y="125.57" font-size="13.0" textLength="52.8" lengthAdjust="spacingAndGlyphs">2.76TeV</text>
</svg></body></html>
